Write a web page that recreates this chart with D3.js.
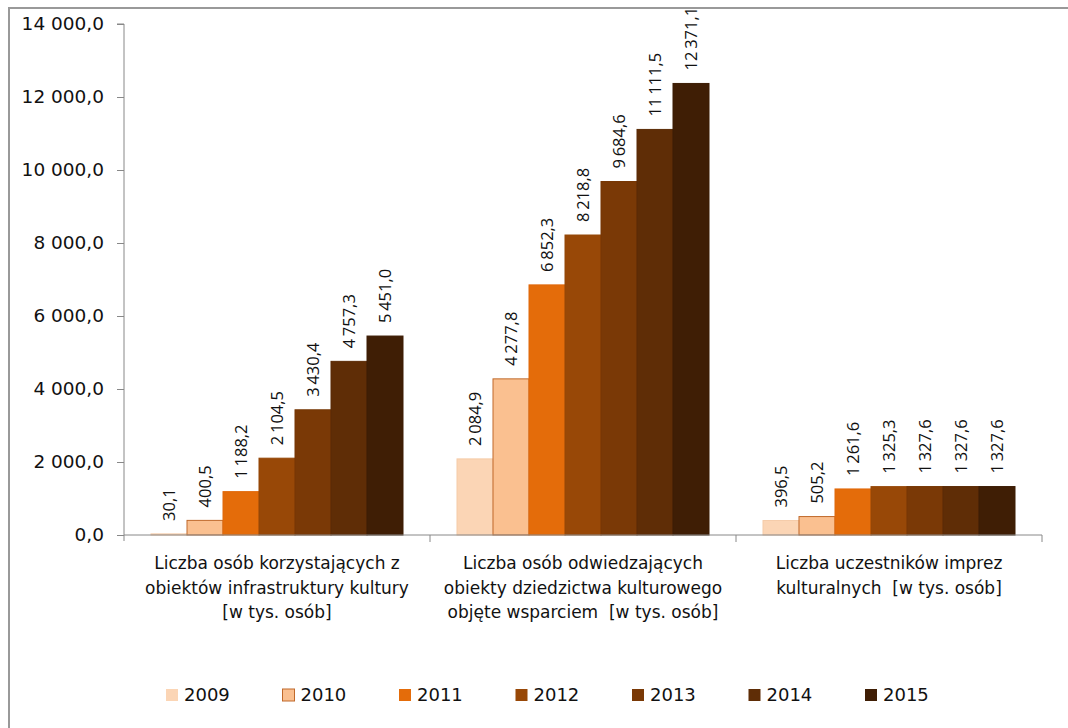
<!DOCTYPE html>
<html>
<head>
<meta charset="utf-8">
<script src="https://cdn.jsdelivr.net/npm/d3@7/dist/d3.min.js"></script>
<style>
  html, body { margin: 0; padding: 0; background: #fff; }
  svg { display: block; }
  text { white-space: pre; }
</style>
</head>
<body>
<svg id="chart" width="1068" height="728"></svg>
<script>
const categories = [
  ["Liczba osób korzystających z", "obiektów infrastruktury kultury", "[w tys. osób]"],
  ["Liczba osób odwiedzających", "obiekty dziedzictwa kulturowego", "objęte wsparciem  [w tys. osób]"],
  ["Liczba uczestników imprez", "kulturalnych  [w tys. osób]"]
];
const years = ["2009", "2010", "2011", "2012", "2013", "2014", "2015"];
const values2009 = [30.1, 2084.9, 396.5];
const values2010 = [400.5, 4277.8, 505.2];
const values2011 = [1188.2, 6852.3, 1261.6];
const values2012 = [2104.5, 8218.8, 1325.3];
const values2013 = [3430.4, 9684.6, 1327.6];
const values2014 = [4757.3, 11111.5, 1327.6];
const values2015 = [5451.0, 12371.1, 1327.6];
const yTicks = [0, 2000, 4000, 6000, 8000, 10000, 12000, 14000];

const series = [values2009, values2010, values2011, values2012, values2013, values2014, values2015];
const colors = ["#FBD5B5", "#FAC090", "#E46C0A", "#984807", "#7A3906", "#5F2D06", "#3F1E05"];
const strokes = ["#F5CBA8", "#C0692A", "#E0680A", "#944606", "#763705", "#5B2B06", "#3C1D05"];

const svg = d3.select("#chart");

// outer frame
svg.append("path")
  .attr("d", "M9,728 L9,8 L1068,8")
  .attr("fill", "none").attr("stroke", "#999").attr("stroke-width", 2);

const pLeft = 124, pRight = 1042, pTop = 24, pBottom = 535;
const x0 = d3.scaleBand().domain(d3.range(categories.length)).range([pLeft, pRight]).padding(0);
const x1 = d3.scaleBand().domain(d3.range(years.length)).range([27, x0.bandwidth() - 27]).padding(0);
const y = d3.scaleLinear().domain([0, 14000]).range([pBottom, pTop]);

const fmtWith = sep => v => {
  const s = v.toFixed(1);
  const [i, d] = s.split(".");
  const ii = i.length > 3 ? i.slice(0, i.length - 3) + sep + i.slice(-3) : i;
  return ii + "," + d;
};
const fmt = fmtWith("\u2009");

// y axis
const yAxis = d3.axisLeft(y).tickValues(yTicks).tickSize(7).tickPadding(13).tickFormat(fmtWith(" "));
const gy = svg.append("g").attr("transform", `translate(${pLeft},0)`).call(yAxis);
gy.select(".domain").attr("stroke", "#888").attr("d", `M-7,${pTop}H0V${pBottom + 6}`);
gy.selectAll(".tick line").attr("stroke", "#888");
gy.selectAll(".tick text")
  .attr("font-family", "DejaVu Sans, sans-serif")
  .attr("font-size", 18.5).attr("fill", "#111");

// bars
const groups = svg.append("g").selectAll("g")
  .data(categories.map((c, i) => i))
  .join("g")
  .attr("transform", i => `translate(${x0(i)},0)`);

groups.selectAll("rect")
  .data(i => series.map((s, k) => ({k, v: s[i]})))
  .join("rect")
  .attr("x", d => x1(d.k))
  .attr("y", d => y(d.v))
  .attr("width", x1.bandwidth())
  .attr("height", d => y(0) - y(d.v))
  .attr("fill", d => colors[d.k])
  .attr("stroke", d => strokes[d.k])
  .attr("stroke-width", 1);

groups.selectAll("text.val")
  .data(i => series.map((s, k) => ({k, v: s[i]})))
  .join("text")
  .attr("class", "val")
  .attr("transform", d => `translate(${x1(d.k) + x1.bandwidth() / 2},${y(d.v) - 13}) rotate(-90)`)
  .attr("dy", "0.36em")
  .attr("font-family", "Open Sans, sans-serif")
  .attr("font-size", 16.5)
  .attr("fill", "#111")
  .text(d => fmt(d.v));

// x axis
const xAxis = d3.axisBottom(x0).tickValues([]).tickSizeOuter(0);
const gx = svg.append("g").attr("transform", `translate(0,${pBottom})`).call(xAxis);
gx.select(".domain").attr("stroke", "#888").attr("d", `M${pLeft},0H${pRight}`);
gx.selectAll("line.sep")
  .data(d3.range(1, categories.length + 1))
  .join("line").attr("class", "sep")
  .attr("x1", i => i < categories.length ? x0(i) : pRight)
  .attr("x2", i => i < categories.length ? x0(i) : pRight)
  .attr("y1", 0).attr("y2", 7)
  .attr("stroke", "#888");

// category labels
const catG = svg.append("g");
categories.forEach((lines, i) => {
  const t = catG.append("text")
    .attr("x", x0(i) + x0.bandwidth() / 2)
    .attr("y", 569)
    .attr("text-anchor", "middle")
    .attr("font-family", "DejaVu Sans, sans-serif")
    .attr("font-size", 17)
    .attr("fill", "#111");
  lines.forEach((ln, j) => {
    t.append("tspan").attr("x", x0(i) + x0.bandwidth() / 2).attr("dy", j === 0 ? 0 : 24.5).text(ln);
  });
});

// legend
const lx = d3.scalePoint().domain(years).range([166, 865]);
const lg = svg.append("g").selectAll("g").data(years).join("g")
  .attr("transform", d => `translate(${lx(d)},689)`);
lg.append("rect").attr("width", 12).attr("height", 12)
  .attr("fill", (d, i) => colors[i])
  .attr("stroke", (d, i) => i === 1 ? strokes[i] : "none");
lg.append("text").attr("x", 18).attr("y", 6).attr("dy", "0.36em")
  .attr("font-family", "DejaVu Sans, sans-serif").attr("font-size", 18).attr("fill", "#111")
  .text(d => d);
</script>
</body>
</html>
